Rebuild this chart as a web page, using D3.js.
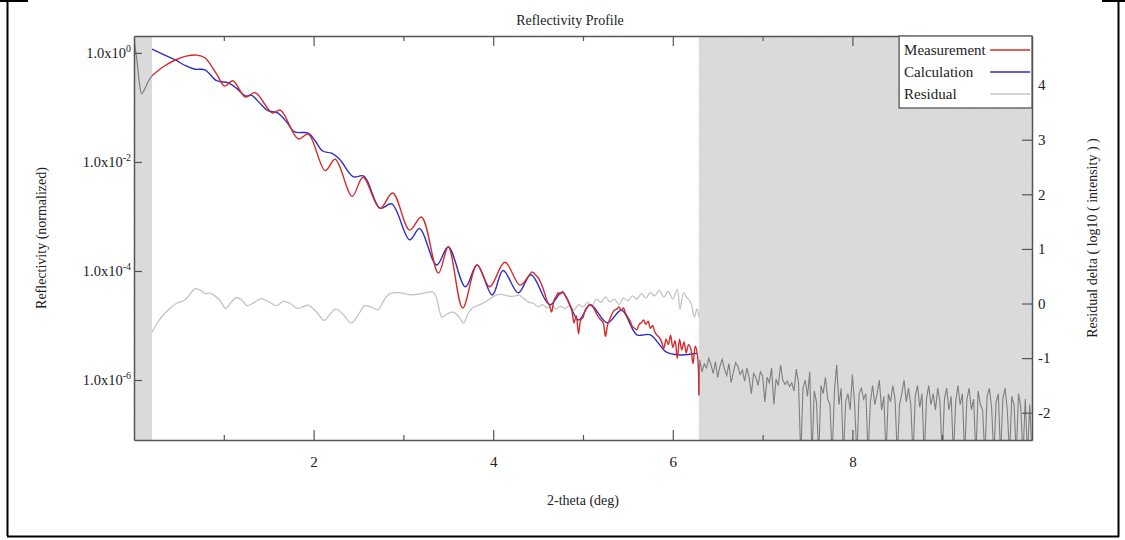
<!DOCTYPE html>
<html>
<head>
<meta charset="utf-8">
<script src="https://cdn.jsdelivr.net/npm/d3@7"></script>
<style>
  body { margin: 0; background: #fff; }
  svg { display: block; font-family: "Liberation Serif", "Times New Roman", serif; }
</style>
</head>
<body>
<div id="chart"></div>
<script>
// ---- data ----
const xMajorTicks = [2, 4, 6, 8];
const xMinorTicks = [1, 3, 5, 7, 9];
const leftTickExponents = [0, -2, -4, -6];
const rightTicks = [-2, -1, 0, 1, 2, 3, 4];
const fitRange = [0.2, 6.29];          // fitted window, outside it is shaded
const legendLabels = ['Measurement', 'Calculation', 'Residual'];

// [2-theta, log10(reflectivity)]
const measurement = [
  [0.00, 0.24], [0.03, -0.10], [0.06, -0.55], [0.085, -0.75], [0.12, -0.66], [0.16, -0.52], [0.20, -0.42],
  [0.33, -0.25], [0.46, -0.13], [0.58, -0.06], [0.70, -0.04], [0.79, -0.09], [0.92, -0.39], [1.01, -0.61],
  [1.10, -0.51], [1.24, -0.81], [1.35, -0.73], [1.54, -1.10], [1.63, -1.05], [1.83, -1.58], [1.94, -1.49],
  [2.13, -2.16], [2.24, -1.95], [2.43, -2.63], [2.55, -2.28], [2.74, -2.85], [2.88, -2.57], [3.07, -3.25],
  [3.20, -3.01], [3.39, -4.04], [3.50, -3.56], [3.66, -4.68], [3.82, -3.89], [3.96, -4.29], [4.13, -3.84],
  [4.30, -4.26], [4.43, -4.02],
  [4.45, -4.03], [4.475, -4.08], [4.50, -4.12], [4.525, -4.20], [4.55, -4.30], [4.575, -4.42], [4.60, -4.55],
  [4.625, -4.62], [4.65, -4.75], [4.675, -4.55], [4.70, -4.47], [4.725, -4.40], [4.75, -4.42], [4.775, -4.38],
  [4.80, -4.45], [4.825, -4.52], [4.85, -4.62], [4.875, -4.72], [4.90, -4.95], [4.925, -4.82], [4.95, -5.15],
  [4.975, -4.90], [5.00, -4.85], [5.025, -4.72], [5.05, -4.66], [5.075, -4.62], [5.10, -4.64], [5.125, -4.70],
  [5.15, -4.78], [5.175, -4.85], [5.20, -4.90], [5.225, -4.95], [5.25, -5.20], [5.275, -4.98], [5.30, -4.88],
  [5.325, -4.78], [5.35, -4.72], [5.375, -4.70], [5.40, -4.66], [5.425, -4.72], [5.45, -4.68], [5.475, -4.78],
  [5.50, -4.85], [5.525, -4.92], [5.55, -5.02], [5.575, -5.05], [5.60, -5.08], [5.625, -4.98], [5.65, -4.95],
  [5.675, -4.90], [5.70, -4.98], [5.725, -4.92], [5.75, -5.05], [5.775, -5.00], [5.80, -5.12], [5.825, -5.18],
  [5.85, -5.22], [5.875, -5.30], [5.90, -5.42], [5.925, -5.25], [5.95, -5.35], [5.975, -5.18], [6.00, -5.40],
  [6.025, -5.28], [6.05, -5.60], [6.075, -5.25], [6.10, -5.45], [6.125, -5.30], [6.15, -5.50], [6.175, -5.35],
  [6.20, -5.42], [6.225, -5.70], [6.25, -5.38], [6.275, -5.55], [6.29, -6.28],
  [6.300, -5.63], [6.325, -5.85], [6.350, -5.70], [6.375, -5.78], [6.400, -5.60], [6.425, -5.72], [6.450, -5.88],
  [6.475, -5.66], [6.500, -5.95], [6.525, -5.75], [6.550, -5.62], [6.575, -5.80], [6.600, -5.92], [6.625, -5.70],
  [6.650, -6.05], [6.675, -5.85], [6.700, -5.68], [6.725, -5.75], [6.750, -5.90], [6.775, -5.82], [6.800, -6.02],
  [6.825, -5.78], [6.850, -5.95], [6.875, -6.25], [6.900, -5.88], [6.925, -5.95], [6.950, -6.10], [6.975, -5.85],
  [7.000, -5.92], [7.025, -6.40], [7.050, -5.95], [7.075, -6.05], [7.100, -5.78], [7.125, -6.45], [7.150, -5.98],
  [7.175, -6.10], [7.200, -5.72], [7.225, -6.00], [7.250, -6.08], [7.275, -6.02], [7.300, -6.12], [7.325, -6.05],
  [7.350, -6.20], [7.375, -5.80], [7.400, -6.05], [7.425, -7.40], [7.450, -6.15], [7.475, -6.00], [7.500, -6.30],
  [7.525, -5.85], [7.550, -7.40], [7.575, -6.20], [7.600, -6.40], [7.625, -7.40], [7.650, -6.10], [7.675, -6.25],
  [7.700, -5.95], [7.725, -6.35], [7.750, -6.45], [7.775, -7.40], [7.800, -6.20], [7.825, -5.72], [7.850, -6.45],
  [7.875, -6.15], [7.900, -7.40], [7.925, -6.40], [7.950, -6.25], [7.975, -6.55], [8.000, -5.90], [8.025, -6.45],
  [8.050, -7.40], [8.075, -6.25], [8.100, -6.15], [8.125, -6.35], [8.150, -6.25], [8.175, -7.40], [8.200, -6.40],
  [8.225, -6.10], [8.250, -6.45], [8.275, -6.25], [8.300, -6.00], [8.325, -6.55], [8.350, -6.30], [8.375, -7.40],
  [8.400, -6.25], [8.425, -6.40], [8.450, -6.10], [8.475, -6.35], [8.500, -7.40], [8.525, -6.45], [8.550, -6.25],
  [8.575, -6.00], [8.600, -6.40], [8.625, -6.15], [8.650, -6.45], [8.675, -7.40], [8.700, -6.30], [8.725, -6.10],
  [8.750, -6.50], [8.775, -6.25], [8.800, -7.40], [8.825, -6.35], [8.850, -6.10], [8.875, -6.45], [8.900, -6.25],
  [8.925, -6.55], [8.950, -6.15], [8.975, -6.40], [9.000, -7.40], [9.025, -6.35], [9.050, -6.15], [9.075, -6.55],
  [9.100, -6.30], [9.125, -7.40], [9.150, -6.40], [9.175, -6.10], [9.200, -6.45], [9.225, -6.25], [9.250, -7.40],
  [9.275, -6.35], [9.300, -6.15], [9.325, -6.55], [9.350, -6.35], [9.375, -7.40], [9.400, -6.20], [9.425, -6.45],
  [9.450, -6.55], [9.475, -7.40], [9.500, -6.30], [9.525, -6.15], [9.550, -6.50], [9.575, -7.40], [9.600, -6.40],
  [9.625, -6.25], [9.650, -7.40], [9.675, -6.35], [9.700, -6.15], [9.725, -6.55], [9.750, -7.40], [9.775, -6.30],
  [9.800, -6.45], [9.825, -7.40], [9.850, -6.25], [9.875, -6.50], [9.900, -7.40], [9.925, -6.35], [9.950, -7.40],
  [9.975, -6.45], [10.000, -7.40]
];

// [2-theta, log10(reflectivity)]
const calculation = [
  [0.20, 0.07], [0.33, -0.03], [0.46, -0.13], [0.58, -0.24], [0.68, -0.30], [0.79, -0.31], [0.92, -0.51],
  [1.05, -0.55], [1.15, -0.66], [1.24, -0.79], [1.31, -0.78], [1.40, -0.92], [1.49, -1.06], [1.60, -1.10],
  [1.70, -1.27], [1.79, -1.45], [1.94, -1.47], [2.02, -1.62], [2.10, -1.80], [2.20, -1.84], [2.29, -1.95],
  [2.44, -2.27], [2.56, -2.26], [2.74, -2.85], [2.87, -2.77], [3.07, -3.43], [3.18, -3.22], [3.37, -3.89],
  [3.50, -3.56], [3.69, -4.29], [3.82, -3.89], [3.99, -4.44], [4.11, -3.99], [4.28, -4.40], [4.42, -4.07],
  [4.63, -4.62], [4.77, -4.39], [4.95, -4.90], [5.08, -4.62], [5.27, -4.95], [5.43, -4.72], [5.60, -5.17],
  [5.75, -5.17], [5.93, -5.49], [6.08, -5.54], [6.27, -5.51]
];

// [2-theta, residual delta]
const residual = [
  [0.20, -0.53], [0.25, -0.38], [0.32, -0.22], [0.40, -0.09], [0.47, 0.00], [0.55, 0.05], [0.60, 0.12],
  [0.68, 0.27], [0.74, 0.24], [0.80, 0.18], [0.85, 0.19], [0.90, 0.14], [0.96, 0.05], [1.02, -0.09],
  [1.08, 0.02], [1.14, 0.11], [1.20, 0.06], [1.26, -0.04], [1.34, 0.02], [1.42, 0.09], [1.50, 0.03],
  [1.59, -0.04], [1.66, 0.04], [1.74, 0.00], [1.82, -0.09], [1.88, -0.06], [1.94, -0.03], [2.03, -0.15],
  [2.12, -0.31], [2.19, -0.18], [2.25, -0.10], [2.33, -0.20], [2.42, -0.36], [2.50, -0.20], [2.57, -0.04],
  [2.65, -0.07], [2.72, -0.11], [2.78, 0.05], [2.85, 0.18], [2.95, 0.20], [3.08, 0.16], [3.20, 0.18],
  [3.33, 0.21], [3.37, 0.10], [3.40, -0.12], [3.43, -0.25], [3.50, -0.18], [3.56, -0.16], [3.62, -0.25],
  [3.67, -0.36], [3.72, -0.18], [3.78, -0.07], [3.84, -0.03], [3.90, 0.02], [3.96, 0.08], [4.04, 0.16],
  [4.12, 0.16], [4.20, 0.13], [4.29, 0.15], [4.35, 0.08], [4.40, 0.02], [4.45, 0.00], [4.50, -0.06],
  [4.55, -0.02], [4.60, -0.08], [4.65, -0.03], [4.70, -0.10], [4.75, -0.05], [4.80, -0.09], [4.85, -0.04],
  [4.90, -0.12], [4.95, -0.02], [5.00, -0.06], [5.05, 0.02], [5.10, -0.04], [5.15, 0.08], [5.20, 0.02],
  [5.25, 0.12], [5.30, 0.03], [5.35, 0.08], [5.40, -0.02], [5.45, 0.10], [5.50, 0.05], [5.55, 0.14],
  [5.60, 0.08], [5.65, 0.18], [5.70, 0.10], [5.75, 0.20], [5.80, 0.14], [5.85, 0.24], [5.90, 0.12],
  [5.95, 0.22], [6.00, 0.08], [6.05, 0.26], [6.08, -0.10], [6.12, 0.20], [6.15, 0.12], [6.20, 0.02],
  [6.24, -0.25], [6.27, -0.10], [6.29, -0.25]
];

// ---- layout ----
const width = 1125, height = 540;
const margin = {t: 36, r: 93, b: 100, l: 134};
const plotW = width - margin.l - margin.r;
const plotH = height - margin.t - margin.b;

const colors = {meas: '#d42a2a', calc: '#2e2ec4', resid: '#c4c4c4', excluded: '#7f7f7f', axis: '#555', text: '#222'};

const svg = d3.select('#chart').append('svg')
  .attr('width', width)
  .attr('height', height);

svg.append('rect').attr('width', width).attr('height', height).attr('fill', '#fff');

const x = d3.scaleLinear().domain([0, 10]).range([margin.l, margin.l + plotW]);
const yL = d3.scaleLog().domain([Math.pow(10, -7.1), Math.pow(10, 0.31)]).range([margin.t + plotH, margin.t]);
const yR = d3.scaleLinear().domain([-2.5, 4.9]).range([margin.t + plotH, margin.t]);

// shading pattern for excluded regions
const defs = svg.append('defs');
const pat = defs.append('pattern')
  .attr('id', 'hatch').attr('patternUnits', 'userSpaceOnUse')
  .attr('width', 3).attr('height', 3);
pat.append('rect').attr('width', 3).attr('height', 3).attr('fill', '#d6d6d6');
pat.append('path').attr('d', 'M0,3 L3,0').attr('stroke', '#e2e2e2').attr('stroke-width', 1);

defs.append('clipPath').attr('id', 'plot-clip')
  .append('rect')
  .attr('x', margin.l).attr('y', margin.t)
  .attr('width', plotW).attr('height', plotH);

const shaded = [[0, fitRange[0]], [fitRange[1], 10]];
svg.append('g').selectAll('rect')
  .data(shaded)
  .join('rect')
  .attr('x', d => x(d[0]))
  .attr('y', margin.t)
  .attr('width', d => x(d[1]) - x(d[0]))
  .attr('height', plotH)
  .attr('fill', 'url(#hatch)');

// ---- lines ----
const reflLine = d3.line()
  .x(d => x(d[0]))
  .y(d => yL(Math.pow(10, d[1])))
  .curve(d3.curveCatmullRom.alpha(0.5));

const reflLineRaw = d3.line()
  .x(d => x(d[0]))
  .y(d => yL(Math.pow(10, d[1])));

const residLine = d3.line()
  .x(d => x(d[0]))
  .y(d => yR(d[1]))
  .curve(d3.curveCatmullRom.alpha(0.5));

const lines = svg.append('g').attr('clip-path', 'url(#plot-clip)');

const measLeft = measurement.filter(d => d[0] <= fitRange[0]);
const measFit = measurement.filter(d => d[0] >= fitRange[0] && d[0] <= fitRange[1]);
const measRight = measurement.filter(d => d[0] >= fitRange[1]);

lines.append('path').datum(residual)
  .attr('d', residLine)
  .attr('fill', 'none').attr('stroke', colors.resid).attr('stroke-width', 1.3);

lines.append('path').datum(measLeft)
  .attr('d', reflLine)
  .attr('fill', 'none').attr('stroke', colors.excluded).attr('stroke-width', 1.2);

lines.append('path').datum(measRight)
  .attr('d', reflLineRaw)
  .attr('fill', 'none').attr('stroke', colors.excluded).attr('stroke-width', 1.1);

lines.append('path').datum(calculation)
  .attr('d', reflLine)
  .attr('fill', 'none').attr('stroke', colors.calc).attr('stroke-width', 1.4);

lines.append('path').datum(measFit)
  .attr('d', reflLine)
  .attr('fill', 'none').attr('stroke', colors.meas).attr('stroke-width', 1.4);

// ---- axes ----
function styleAxis(g) {
  g.selectAll('path.domain').attr('stroke', colors.axis).attr('stroke-width', 1.5);
  g.selectAll('.tick line').attr('stroke', colors.axis).attr('stroke-width', 1.2);
  g.selectAll('.tick text').attr('fill', colors.text)
    .style('font-family', '"Liberation Serif", serif').style('font-size', '15px');
}

// plain hyphen for negatives, like the original
const plainInt = d => String(d);

svg.append('g')
  .attr('transform', `translate(0,${margin.t + plotH})`)
  .call(d3.axisBottom(x).tickValues(xMajorTicks).tickSizeInner(-10).tickSizeOuter(0).tickPadding(16).tickFormat(plainInt))
  .call(styleAxis);

svg.append('g')
  .attr('transform', `translate(0,${margin.t + plotH})`)
  .call(d3.axisBottom(x).tickValues(xMinorTicks).tickSizeInner(-5).tickSizeOuter(0).tickFormat(''))
  .call(g => g.select('.domain').remove())
  .call(styleAxis);

svg.append('g')
  .attr('transform', `translate(0,${margin.t})`)
  .call(d3.axisTop(x).tickValues(xMajorTicks).tickSizeInner(-10).tickSizeOuter(0).tickFormat(''))
  .call(styleAxis);

svg.append('g')
  .attr('transform', `translate(0,${margin.t})`)
  .call(d3.axisTop(x).tickValues(xMinorTicks).tickSizeInner(-5).tickSizeOuter(0).tickFormat(''))
  .call(g => g.select('.domain').remove())
  .call(styleAxis);

svg.append('g')
  .attr('transform', `translate(${margin.l},0)`)
  .call(d3.axisLeft(yL).tickValues(leftTickExponents.map(e => Math.pow(10, e))).tickSizeInner(-8).tickSizeOuter(0).tickFormat(''))
  .call(styleAxis);

// 1.0x10^n labels
const leftLabels = svg.append('g');
leftTickExponents.forEach(e => {
  const t = leftLabels.append('text')
    .attr('x', margin.l - 3)
    .attr('y', yL(Math.pow(10, e)) + 5)
    .attr('text-anchor', 'end')
    .attr('fill', colors.text)
    .style('font-size', '14.5px');
  t.append('tspan').text('1.0x10');
  t.append('tspan').attr('dy', -6).style('font-size', '10px').text(String(e));
});

svg.append('g')
  .attr('transform', `translate(${margin.l + plotW},0)`)
  .call(d3.axisRight(yR).tickValues(rightTicks).tickSizeInner(-10).tickSizeOuter(0).tickPadding(6).tickFormat(plainInt))
  .call(styleAxis);

// ---- legend ----
const legend = svg.append('g').attr('transform', `translate(${x(8.52)},${margin.t})`);
legend.append('rect')
  .attr('width', x(10) - x(8.52)).attr('height', 72)
  .attr('fill', '#fff').attr('stroke', colors.axis).attr('stroke-width', 1.3);
const legendColors = [colors.meas, colors.calc, colors.resid];
legendLabels.forEach((lab, i) => {
  const cy = 14 + i * 22;
  legend.append('text')
    .attr('x', 5).attr('y', cy + 5)
    .attr('fill', colors.text)
    .style('font-size', '15px')
    .text(lab);
  legend.append('line')
    .attr('x1', 91).attr('x2', 131)
    .attr('y1', cy).attr('y2', cy)
    .attr('stroke', legendColors[i]).attr('stroke-width', 1.3);
});

// ---- titles ----
svg.append('text')
  .attr('x', 570).attr('y', 25)
  .attr('text-anchor', 'middle').attr('fill', colors.text)
  .style('font-size', '14px')
  .text('Reflectivity Profile');

svg.append('text')
  .attr('x', margin.l + plotW / 2).attr('y', 505)
  .attr('text-anchor', 'middle').attr('fill', colors.text)
  .style('font-size', '14px')
  .text('2-theta (deg)');

svg.append('text')
  .attr('transform', `translate(46,${margin.t + plotH / 2}) rotate(-90)`)
  .attr('text-anchor', 'middle').attr('fill', colors.text)
  .style('font-size', '14px')
  .text('Reflectivity (normalized)');

svg.append('text')
  .attr('transform', `translate(1097,${margin.t + plotH / 2}) rotate(-90)`)
  .attr('text-anchor', 'middle').attr('fill', colors.text)
  .style('font-size', '14px')
  .text('Residual delta ( log10 ( intensity ) )');

// ---- outer frame ----
svg.append('path')
  .attr('d', 'M0,1 H28 M7.5,0 V536 M7,536.5 H1119 M1118.5,1 V537 M1102,1 H1125')
  .attr('fill', 'none').attr('stroke', '#000').attr('stroke-width', 2);
</script>
</body>
</html>
